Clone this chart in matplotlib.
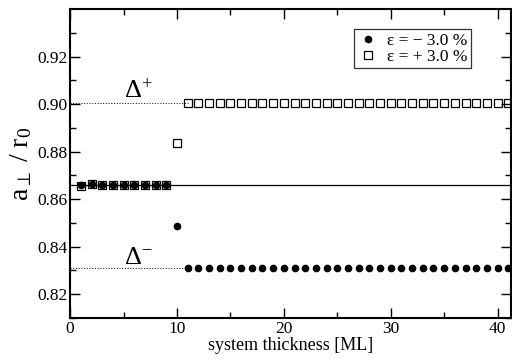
import numpy as np
import matplotlib
matplotlib.use("Agg")
import matplotlib.pyplot as plt

plt.rcParams['font.family'] = ['Liberation Serif', 'DejaVu Serif']
plt.rcParams['mathtext.fontset'] = 'custom'
plt.rcParams['mathtext.rm'] = 'Liberation Serif'
plt.rcParams['mathtext.it'] = 'Liberation Serif:italic'

# thickness in ML
thickness = np.arange(1, 42)

# eps = -3.0 %
minus_vals = [0.8660, 0.8664, 0.8661, 0.8661, 0.8661, 0.8661, 0.8661, 0.8661, 0.8660,
              0.8487] + [0.8311] * 31
# eps = +3.0 %
plus_vals = [0.8657, 0.8663, 0.8660, 0.8660, 0.8660, 0.8660, 0.8660, 0.8659, 0.8658,
             0.8835] + [0.9005] * 31

bulk = 0.866
delta_plus = 0.9005
delta_minus = 0.8311

fig = plt.figure(figsize=(5.12, 3.6), dpi=100)
ax = fig.add_axes([0.137, 0.117, 0.862, 0.858])

ax.axhline(bulk, color='black', lw=0.9)
ax.plot([0, 11], [delta_plus, delta_plus], color='black', lw=0.7, ls=(0, (1, 1.8)))
ax.plot([0, 11], [delta_minus, delta_minus], color='black', lw=0.7, ls=(0, (1, 1.8)))

ax.plot(thickness, minus_vals, 'o', color='black', ms=4.5, ls='none',
        label='ε = − 3.0 %')
ax.plot(thickness, plus_vals, 's', mfc='none', mec='black', mew=0.9, ms=6, ls='none',
        label='ε = + 3.0 %')

ax.text(5.0, 0.9022, r'$\Delta^{+}$', fontsize=19)
ax.text(5.0, 0.8328, r'$\Delta^{-}$', fontsize=19)

ax.set_xlim(0, 41.3)
ax.set_ylim(0.81, 0.94)
ax.set_xticks([0, 10, 20, 30, 40])
ax.set_xticks([5, 15, 25, 35], minor=True)
ax.set_yticks([0.82, 0.84, 0.86, 0.88, 0.90, 0.92])
ax.set_yticks([0.81, 0.83, 0.85, 0.87, 0.89, 0.91, 0.93], minor=True)
ax.set_yticklabels(['0.82', '0.84', '0.86', '0.88', '0.90', '0.92'])
ax.tick_params(which='both', direction='in', top=True, right=True, labelsize=12.5, width=1)
ax.tick_params(which='major', length=7, pad=2)
ax.tick_params(which='minor', length=4)
for s in ax.spines.values():
    s.set_linewidth(1.5)

ax.set_xlabel('system thickness [ML]', fontsize=13, labelpad=0)
ax.set_ylabel(r'a$_\perp$ / r$_0$', fontsize=20, labelpad=2)

leg = ax.legend(loc='upper right', bbox_to_anchor=(0.908, 0.935), fontsize=12.5,
                frameon=True, fancybox=False, edgecolor='black', handletextpad=0.5,
                borderpad=0.2, labelspacing=0.0, handlelength=1.2, borderaxespad=0)
leg.get_frame().set_linewidth(0.9)

fig.savefig('out.png', dpi=100)
